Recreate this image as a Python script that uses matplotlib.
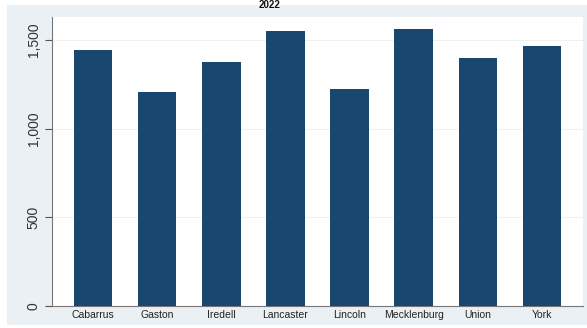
import numpy as np
import matplotlib
matplotlib.use('Agg')
import matplotlib.pyplot as plt
from matplotlib.patches import Rectangle
from matplotlib.ticker import FuncFormatter

matplotlib.rc('font', family='Liberation Sans')

counties = ['Cabarrus', 'Gaston', 'Iredell', 'Lancaster', 'Lincoln',
            'Mecklenburg', 'Union', 'York']
values = [1444, 1205, 1374, 1553, 1222, 1562, 1397, 1465]
yticks = [0, 500, 1000, 1500]
title = '2022'

W, H = 587, 328
fig = plt.figure(figsize=(W / 100, H / 100), dpi=100)
fig.patch.set_facecolor('white')

# stata-like outer background, kept behind the axes
bg = Rectangle((7 / W, 3 / H), 1 - 7 / W, 1 - 8 / H, transform=fig.transFigure,
               facecolor='#eaf0f3', edgecolor='none', zorder=-10)
fig.add_artist(bg)

ax = fig.add_axes([52 / W, 22 / H, (583 - 52) / W, (306 - 17) / H])
ax.set_facecolor('white')
ax.set_zorder(1)

x = np.arange(len(counties))
ax.bar(x, values, width=0.6, color='#1a476f', zorder=3)

ax.set_xlim(-0.64, len(counties) - 1 + 0.64)
ax.set_ylim(0, 1630)

ax.set_yticks(yticks)
ax.yaxis.set_major_formatter(FuncFormatter(lambda v, p: '{:,.0f}'.format(v)))
ax.tick_params(axis='y', direction='out', length=5, width=0.8, color='#555555',
               labelsize=10, rotation=90, pad=3, labelcolor='#333333')
for lab in ax.get_yticklabels():
    lab.set_va('center')

ax.set_xticks(x)
ax.set_xticklabels(counties)
ax.tick_params(axis='x', length=0, labelsize=7.5, pad=3, labelcolor='#222222')

ax.grid(axis='y', color='#eeeeee', linewidth=0.6, zorder=0)
ax.set_axisbelow(True)

for s in ['top', 'right']:
    ax.spines[s].set_visible(False)
for s in ['left', 'bottom']:
    ax.spines[s].set_color('#777777')
    ax.spines[s].set_linewidth(0.8)

fig.text(270 / W, 1 - 0.5 / H, title, ha='center', va='top', fontsize=7,
         fontweight='bold', color='#111111', zorder=5)

fig.savefig('out.png', dpi=100)
